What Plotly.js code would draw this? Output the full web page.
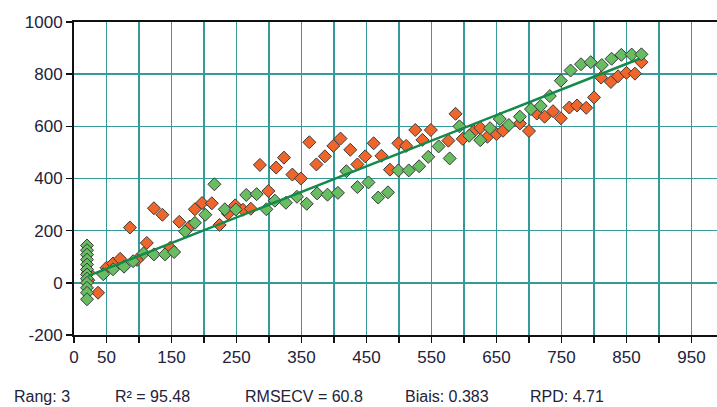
<!DOCTYPE html>
<html>
<head>
<meta charset="utf-8">
<script src="https://cdn.plot.ly/plotly-3.0.1.min.js"></script>
<style>
  html, body { margin: 0; padding: 0; background: #fff; }
  #chart { width: 717px; height: 407px; }
</style>
</head>
<body>
<div id="chart"></div>
<script>
// ---- data ----
const orangeX = [22, 22, 37, 50, 60, 71, 86, 97, 112, 123, 136, 148, 162, 178, 186, 197, 212, 224, 237, 248, 260, 272,
  286, 299, 311, 323, 336, 349, 362, 373, 386, 399, 410, 425, 436, 448, 461, 473, 486, 499, 511, 525, 536, 549, 576,
  587, 598, 615, 625, 636, 650, 660, 686, 700, 712, 724, 737, 749, 762, 774, 788, 800, 811, 826, 837, 850, 863, 873];
const orangeY = [40, 10, -38, 58, 74, 92, 212, 88, 153, 286, 261, 134, 234, 216, 282, 306, 305, 222, 265, 297, 280, 284,
  452, 352, 442, 480, 415, 400, 539, 454, 485, 525, 553, 510, 454, 485, 535, 487, 434, 535, 525, 586, 548, 586, 545,
  648, 552, 581, 594, 560, 570, 583, 611, 582, 649, 637, 658, 631, 672, 680, 671, 711, 787, 770, 792, 805, 802, 846];

const greenX = [20, 20, 20, 20, 20, 20, 20, 20, 20, 20, 20, 20,
  45, 60, 77, 91, 107, 123, 140, 154, 171, 186, 202, 216, 232, 249, 265, 281, 296, 309, 326, 343, 358, 374, 390, 406,
  419, 436, 453, 468, 483, 499, 515, 531, 545, 561, 578, 593, 608, 625, 640, 655, 669, 686, 703, 718, 732, 749, 764,
  780, 795, 812, 827, 842, 858, 873];
const greenY = [143, 125, 108, 89, 70, 51, 32, 16, 0, -19, -38, -63,
  33, 52, 62, 83, 113, 109, 109, 118, 197, 230, 261, 378, 282, 281, 337, 340, 282, 315, 307, 330, 303, 343, 338, 345,
  428, 367, 385, 327, 347, 431, 431, 447, 483, 523, 477, 600, 564, 547, 593, 628, 605, 637, 666, 678, 716, 775, 814,
  838, 846, 835, 859, 874, 875, 876];

const fitX = [22, 870];
const fitY = [27, 859];

const xTickVals = [0, 50, 100, 150, 200, 250, 300, 350, 400, 450, 500, 550, 600, 650, 700, 750, 800, 850, 900, 950];
const xTickText = ["0", "50", "", "150", "", "250", "", "350", "", "450", "", "550", "", "650", "", "750", "", "850", "", "950"];
const yTickVals = [-200, 0, 200, 400, 600, 800, 1000];
const yTickText = ["-200", "0", "200", "400", "600", "800", "1000"];

const statsLabels = ["Rang: 3", "R² = 95.48", "RMSECV = 60.8", "Biais: 0.383", "RPD: 4.71"];
const statsPx = [12, 113, 243, 403, 528];

// ---- layout ----
const L = 74, R = 0, T = 22, B = 72, W = 717, H = 407;
const plotW = W - L - R;
const gridColor = '#379a9a';
const font = 'Liberation Sans, Arial, sans-serif';

const markerLine = { color: '#3a3a3a', width: 1 };

const traces = [
  { x: orangeX, y: orangeY, type: 'scatter', mode: 'markers',
    marker: { symbol: 'diamond', size: 10, color: '#f0662a', line: markerLine }, hoverinfo: 'none' },
  { x: greenX, y: greenY, type: 'scatter', mode: 'markers',
    marker: { symbol: 'diamond', size: 10, color: '#68bd62', line: markerLine }, hoverinfo: 'none' },
  { x: fitX, y: fitY, type: 'scatter', mode: 'lines',
    line: { color: '#138a4a', width: 2.5 }, hoverinfo: 'none' }
];

const annotations = statsLabels.map((t, i) => ({
  text: t, xref: 'paper', yref: 'paper',
  x: (statsPx[i] - L) / plotW, y: -(397 - (H - B)) / (H - T - B),
  xanchor: 'left', yanchor: 'middle', showarrow: false,
  font: { family: font, size: 16, color: '#22223a' }
}));

const layout = {
  width: W, height: H,
  margin: { l: L, r: R, t: T, b: B, pad: 0 },
  paper_bgcolor: '#ffffff', plot_bgcolor: '#ffffff',
  showlegend: false,
  font: { family: font, size: 17, color: '#22223a' },
  xaxis: {
    range: [0, plotW / 0.65], tickmode: 'array', tickvals: xTickVals, ticktext: xTickText,
    showgrid: true, gridcolor: gridColor, gridwidth: 1.5,
    zeroline: false, showline: true, linecolor: '#111', linewidth: 2, mirror: true,
    ticks: 'outside', ticklen: 6, tickcolor: '#111', tickwidth: 1.5,
    tickfont: { family: font, size: 17, color: '#22223a' }
  },
  yaxis: {
    range: [-200, 1000], tickmode: 'array', tickvals: yTickVals, ticktext: yTickText,
    showgrid: true, gridcolor: gridColor, gridwidth: 1.5,
    zeroline: false, showline: true, linecolor: '#111', linewidth: 2, mirror: true,
    ticks: 'outside', ticklen: 6, tickcolor: '#111', tickwidth: 1.5,
    tickfont: { family: font, size: 17, color: '#22223a' }
  },
  annotations: annotations
};

Plotly.newPlot('chart', traces, layout, { staticPlot: true, displayModeBar: false });
</script>
</body>
</html>
